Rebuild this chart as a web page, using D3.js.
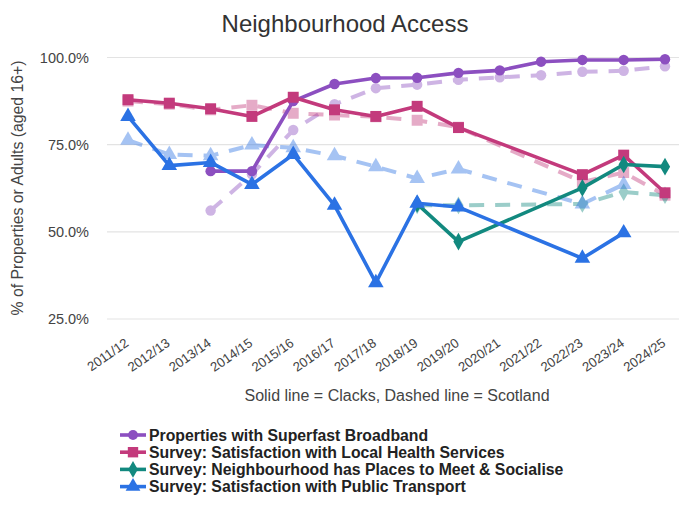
<!DOCTYPE html>
<html>
<head>
<meta charset="utf-8">
<script src="https://cdn.jsdelivr.net/npm/d3@7/dist/d3.min.js"></script>
<style>
  html, body { margin: 0; padding: 0; background: #fff; }
  svg { display: block; font-family: Arial, "Liberation Sans", sans-serif; }
</style>
</head>
<body>
<svg id="chart" width="679" height="508"></svg>
<script>
const years = ["2011/12","2012/13","2013/14","2014/15","2015/16","2016/17","2017/18","2018/19","2019/20","2020/21","2021/22","2022/23","2023/24","2024/25"];
const yTicks = [25, 50, 75, 100];

const broadbandClacks   = [null, null, 67.4, 67.4, 87.5, 92.4, 94.1, 94.2, 95.6, 96.3, 98.8, 99.3, 99.3, 99.5];
const broadbandScotland = [null, null, 56.1, 66.5, 79.2, 86.6, 91.2, 92.2, 93.6, 94.3, 94.9, 95.9, 96.2, 97.5];
const healthClacks      = [87.9, 86.9, 85.3, 83.1, 88.6, 85.0, 83.1, 86.0, 79.9, null, null, 66.4, 72.0, 61.2];
const healthScotland    = [87.5, 86.6, 85.0, 86.3, 84.0, 83.5, 83.0, 82.0, 80.0, null, null, 64.3, 67.0, 60.5];
const meetClacks        = [null, null, null, null, null, null, null, 58.0, 47.2, null, null, 62.6, 69.3, 68.7];
const meetScotland      = [null, null, null, null, null, null, null, 57.6, 57.6, null, null, 58.0, 61.4, 60.5];
const transportClacks   = [83.1, 69.0, 69.9, 63.6, 72.2, 57.6, 35.4, 58.2, 57.1, null, null, 42.4, 49.7, null];
const transportScotland = [76.3, 72.2, 71.8, 74.9, 74.1, 71.8, 68.7, 65.3, 68.0, null, null, 58.0, 63.6, null];

const seriesNames = [
  "Properties with Superfast Broadband",
  "Survey: Satisfaction with Local Health Services",
  "Survey: Neighbourhood has Places to Meet & Socialise",
  "Survey: Satisfaction with Public Transport"
];
const colors = ["#8c4fc0", "#c33a7c", "#12897f", "#2b72e4"];
const shapes = [d3.symbolCircle, d3.symbolSquare, d3.symbolDiamond, d3.symbolTriangle];
const shapeSizes = [85, 120, 90, 105];
const clacks = [broadbandClacks, healthClacks, meetClacks, transportClacks];
const scotland = [broadbandScotland, healthScotland, meetScotland, transportScotland];

const svg = d3.select("#chart");
const x = d3.scalePoint().domain(years).range([128, 665]);
const y = d3.scaleLinear().domain([25, 100]).range([319, 57.5]);

// title
svg.append("text").attr("x", 345).attr("y", 32).attr("text-anchor", "middle")
  .attr("font-size", 24).attr("fill", "#333").text("Neighbourhood Access");

// gridlines
svg.append("g").selectAll("line").data(yTicks).join("line")
  .attr("x1", 107).attr("x2", 679)
  .attr("y1", d => y(d)).attr("y2", d => y(d))
  .attr("stroke", "#e3e3e3").attr("stroke-width", 1.2);

// y axis
const yAxis = svg.append("g").attr("transform", "translate(89,0)")
  .call(d3.axisLeft(y).tickValues(yTicks).tickSize(0).tickPadding(0).tickFormat(d => d.toFixed(1) + "%"));
yAxis.select(".domain").remove();
yAxis.selectAll("text").attr("font-size", 14.5).attr("fill", "#444").attr("font-family", "Arial, 'Liberation Sans', sans-serif");

// x axis
const xAxis = svg.append("g").attr("transform", "translate(0,319)")
  .call(d3.axisBottom(x).tickSize(0));
xAxis.select(".domain").remove();
xAxis.selectAll("text")
  .attr("font-size", 13.2).attr("fill", "#444").attr("font-family", "Arial, 'Liberation Sans', sans-serif")
  .attr("text-anchor", "end").attr("dy", null).attr("y", null)
  .attr("transform", "translate(1,26) rotate(-35)");

// axis titles
svg.append("text").attr("transform", "translate(23,188) rotate(-90)").attr("text-anchor", "middle")
  .attr("font-size", 15.8).attr("fill", "#444").text("% of Properties or Adults (aged 16+)");
svg.append("text").attr("x", 397).attr("y", 401).attr("text-anchor", "middle")
  .attr("font-size", 16).attr("fill", "#444").text("Solid line = Clacks, Dashed line = Scotland");

const line = d3.line().x(d => x(d.year)).y(d => y(d.v));
function pts(arr) { return years.map((yr, i) => ({ year: yr, v: arr[i] })).filter(d => d.v != null); }

// Scotland dashed series
scotland.forEach((arr, i) => {
  const g = svg.append("g").attr("opacity", 0.42);
  g.append("path").datum(pts(arr)).attr("d", line).attr("fill", "none")
    .attr("stroke", colors[i]).attr("stroke-width", 4).attr("stroke-dasharray", "15,11");
  g.selectAll("path.m").data(pts(arr)).join("path").attr("class", "m")
    .attr("transform", d => `translate(${x(d.year)},${y(d.v)})`)
    .attr("d", d3.symbol().type(shapes[i]).size(shapeSizes[i]))
    .attr("fill", colors[i]);
});

// Clacks solid series
clacks.forEach((arr, i) => {
  const g = svg.append("g");
  g.append("path").datum(pts(arr)).attr("d", line).attr("fill", "none")
    .attr("stroke", colors[i]).attr("stroke-width", 3.6).attr("stroke-linejoin", "round");
  g.selectAll("path.m").data(pts(arr)).join("path").attr("class", "m")
    .attr("transform", d => `translate(${x(d.year)},${y(d.v)})`)
    .attr("d", d3.symbol().type(shapes[i]).size(shapeSizes[i]))
    .attr("fill", colors[i]);
});

// legend
const legend = svg.append("g");
seriesNames.forEach((name, i) => {
  const cy = 435 + i * 17.2;
  legend.append("line").attr("x1", 120).attr("x2", 146).attr("y1", cy).attr("y2", cy)
    .attr("stroke", colors[i]).attr("stroke-width", 3.6);
  legend.append("path").attr("transform", `translate(133,${cy})`)
    .attr("d", d3.symbol().type(shapes[i]).size(shapeSizes[i] * 0.9)).attr("fill", colors[i]);
  legend.append("text").attr("x", 149).attr("y", cy + 5.5).attr("font-size", 15.8)
    .attr("font-weight", "bold").attr("fill", "#222").text(name);
});
</script>
</body>
</html>
